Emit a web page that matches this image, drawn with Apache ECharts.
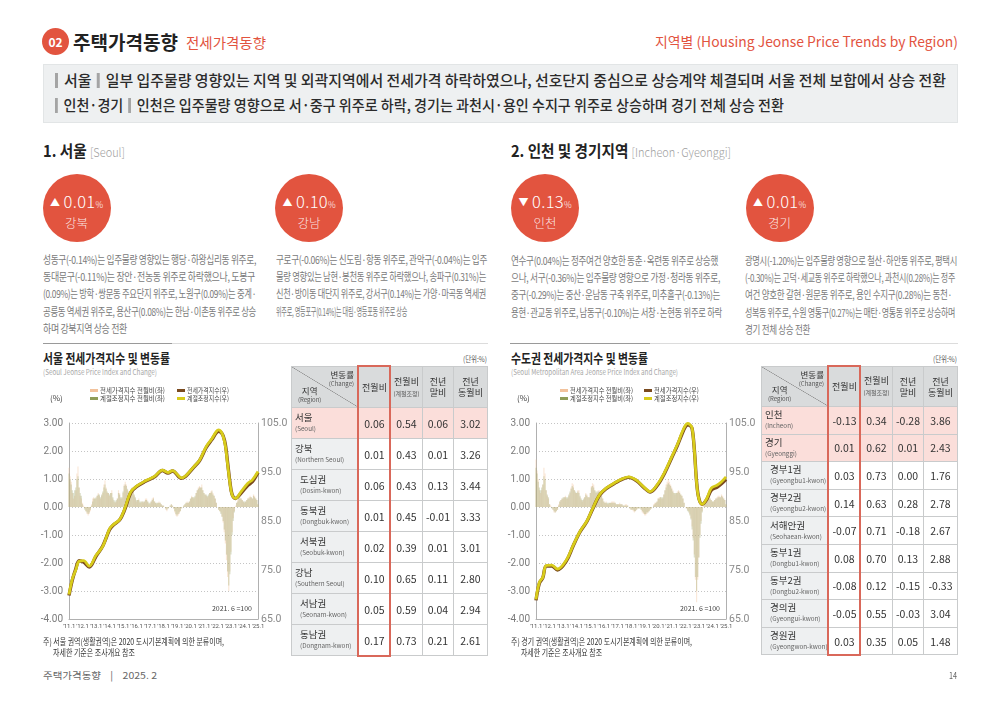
<!DOCTYPE html>
<html>
<head>
<meta charset="utf-8" />
<title>주택가격동향 - 전세가격동향</title>
<script src="https://cdn.jsdelivr.net/npm/echarts/dist/echarts.min.js"></script>
<style>
body{margin:0;width:1000px;height:707px;overflow:hidden;background:#fff;position:relative;
  font-family:"Noto Sans CJK KR","Noto Sans",sans-serif;color:#333}
.abs{position:absolute;white-space:nowrap;transform-origin:0 50%}
.chart{position:absolute;width:270px;height:260px}
.badge{position:absolute;width:68px;height:68px;border-radius:50%;background:#e2543f;color:#fff;text-align:center}
.badge .v{position:absolute;left:0;right:0;top:18px;height:18px;line-height:18px;white-space:nowrap}
.badge .n{position:absolute;left:0;right:0;top:40.5px;height:16px;font-size:12.5px;line-height:16px;font-weight:300;color:rgba(255,255,255,.88)}
.bar{display:inline-block;width:3px;height:15px;background:#a4a4a4;vertical-align:-2px;margin:0 6px 0 0}
.sw{position:absolute;width:8px;height:3px}
table.t{position:absolute;border-collapse:collapse;table-layout:fixed;font-family:"Noto Sans CJK KR",sans-serif}
table.t td{border:1px solid #c9cbcc;padding:0;text-align:center;color:#333;background:#fff;font-size:10.5px}
table.t td.h{background:#d9dbdc;font-size:9px;line-height:11px;color:#333}
table.t td.h small{font-size:6px;color:#555}
table.t td.r{background:#eef0f1;text-align:left;padding-left:4px;line-height:11px}
table.t td.r b{font-weight:400;font-size:9.5px;display:block}
table.t td.r i{font-style:normal;font-size:6.3px;color:#666;display:block;white-space:nowrap}
table.t tr.hi td{background:#fbdeda}
.outline{position:absolute;border:2px solid #d9685a;box-sizing:border-box}
.diag{position:relative;height:100%;background:linear-gradient(to top right,transparent calc(50% - .6px),#8e8e8e 50%,transparent calc(50% + .6px))}
</style>
</head>
<body>

<div class="chart" id="seoulChart" style="left:30px;top:380px"></div>
<div class="chart" id="metroChart" style="left:497px;top:380px"></div>

<script>
// ---- 월별 데이터 2011.1 ~ 2025.1 (169개월) ----
var xTickLabels = ["'11.1","'12.1","'13.1","'14.1","'15.1","'16.1","'17.1","'18.1","'19.1","'20.1","'21.1","'22.1","'23.1","'24.1","'25.1"];
var seriesNames = ['전세가격지수 전월비(좌)', '계절조정지수 전월비(좌)', '전세가격지수(우)', '계절조정지수(우)'];
var seriesColors = ['#f2c29c', '#8f9c58', '#7a4a1f', '#d8cc1c'];

// 서울 전세가격지수 전월비(%)
var seoulChg = [
  1.4,1.1,0.9,0.5,0.3,0.4,0.6,1.2,1.45,0.7,0.4,0.3,
  0.15,0.05,-0.05,-0.15,-0.25,-0.3,-0.25,-0.15,0.1,0.3,0.35,0.3,
  0.3,0.4,0.5,0.4,0.3,0.4,0.5,0.8,0.95,0.7,0.5,0.5,
  0.4,0.5,0.6,0.3,0.2,0.15,0.2,0.3,0.6,0.5,0.3,0.3,
  0.5,0.8,0.9,0.8,0.6,0.5,0.5,0.6,0.7,0.6,0.4,0.3,
  0.2,0.25,0.3,0.15,0.15,0.2,0.15,0.2,0.3,0.3,0.2,0.1,
  0.1,0.2,0.3,0.35,0.2,0.15,0.1,0.15,0.2,0.15,0.1,0.05,
  0.05,0.0,-0.1,-0.15,-0.05,0.0,0.05,0.1,0.05,-0.05,-0.2,-0.3,
  -0.35,-0.3,-0.25,-0.15,-0.05,0.0,0.05,0.1,0.15,0.2,0.15,0.2,
  0.3,0.4,0.35,0.3,0.35,0.5,0.6,0.7,0.75,0.7,0.8,0.6,
  0.5,0.45,0.4,0.35,0.4,0.5,0.55,0.6,0.5,0.4,0.3,0.15,
  0.0,-0.1,-0.15,-0.2,-0.35,-0.55,-0.9,-1.3,-1.9,-2.5,-3.0,-2.3,
  -1.6,-0.9,-0.4,-0.15,0.05,0.15,0.25,0.3,0.35,0.3,0.25,0.2,
  0.15,0.2,0.25,0.3,0.35,0.4,0.35,0.3,0.45,0.4,0.3,0.25,
  0.1];
// 서울 계절조정지수 전월비(%)
var seoulSaChg = [
  1.2,1.0,0.8,0.6,0.5,0.6,0.7,1.0,1.1,0.7,0.5,0.4,
  0.1,0.0,-0.1,-0.15,-0.2,-0.25,-0.2,-0.1,0.05,0.2,0.3,0.3,
  0.35,0.4,0.45,0.45,0.35,0.45,0.55,0.7,0.8,0.65,0.55,0.5,
  0.45,0.5,0.5,0.35,0.25,0.2,0.25,0.3,0.5,0.45,0.35,0.35,
  0.55,0.75,0.8,0.75,0.65,0.55,0.55,0.6,0.6,0.55,0.45,0.35,
  0.25,0.25,0.25,0.2,0.2,0.2,0.2,0.2,0.25,0.25,0.2,0.15,
  0.15,0.2,0.25,0.3,0.2,0.15,0.15,0.15,0.15,0.15,0.1,0.05,
  0.05,0.0,-0.05,-0.1,-0.05,0.0,0.05,0.1,0.05,-0.05,-0.15,-0.25,
  -0.3,-0.25,-0.2,-0.15,-0.05,0.0,0.05,0.1,0.15,0.15,0.15,0.2,
  0.3,0.35,0.35,0.35,0.4,0.5,0.6,0.65,0.7,0.7,0.7,0.6,
  0.5,0.45,0.45,0.4,0.45,0.5,0.5,0.55,0.45,0.4,0.3,0.15,
  0.0,-0.1,-0.15,-0.25,-0.35,-0.5,-0.8,-1.2,-1.7,-2.3,-2.8,-2.4,
  -1.7,-1.0,-0.5,-0.2,0.0,0.15,0.2,0.3,0.3,0.3,0.25,0.2,
  0.2,0.2,0.25,0.3,0.3,0.35,0.35,0.3,0.4,0.35,0.3,0.25,
  0.1];
// 서울 지수 (2021.6=100) [월순번, 지수]
var seoulIdx = [[0,69.8],[3,73.0],[6,75.2],[9,76.9],[13,76.6],[18,75.6],[24,77.8],[30,79.9],[36,83.2],[39,84.1],[45,85.2],[49,87.0],[55,90.8],[60,92.0],[68,93.1],[76,94.0],[83,95.3],[88,94.8],[92,95.2],[100,93.7],[104,94.2],[111,96.0],[116,97.3],[122,100.0],[127,101.6],[131,103.0],[133,103.3],[135,103.1],[137,102.4],[139,100.6],[141,96.9],[143,93.0],[145,90.4],[148,89.6],[153,90.7],[159,92.3],[163,93.0],[168,94.9]];
var seoulSaIdx = [[0,70.0],[3,73.2],[6,75.0],[9,76.8],[13,76.9],[18,75.8],[24,78.0],[30,79.8],[36,83.4],[39,84.2],[45,85.3],[49,87.2],[55,91.0],[60,92.1],[68,93.2],[76,94.1],[83,95.4],[88,94.9],[92,95.3],[100,93.8],[104,94.3],[111,96.1],[116,97.4],[122,100.2],[127,101.8],[131,103.3],[133,103.6],[135,103.3],[137,102.3],[139,100.3],[141,96.5],[143,92.8],[145,90.3],[148,89.6],[153,91.0],[159,92.7],[163,93.4],[168,95.1]];

// 수도권 전세가격지수 전월비(%)
var metroChg = [
  1.7,1.3,1.0,0.6,0.5,0.6,0.8,1.4,1.2,0.6,0.4,0.3,
  0.1,0.05,0.0,-0.1,-0.2,-0.2,-0.15,-0.1,0.1,0.2,0.25,0.3,
  0.3,0.35,0.4,0.3,0.3,0.4,0.5,0.7,0.85,0.8,0.6,0.5,
  0.5,0.6,0.6,0.35,0.25,0.2,0.25,0.35,0.5,0.45,0.35,0.35,
  0.5,0.75,0.85,0.8,0.6,0.5,0.5,0.6,0.6,0.5,0.4,0.3,
  0.2,0.15,0.2,0.1,0.1,0.15,0.15,0.2,0.2,0.2,0.15,0.1,
  0.1,0.1,0.15,0.1,0.1,0.05,0.05,0.1,0.1,0.05,0.0,-0.05,
  -0.1,-0.1,-0.15,-0.2,-0.15,-0.1,-0.05,-0.05,0.0,-0.1,-0.2,-0.25,
  -0.3,-0.3,-0.25,-0.2,-0.15,-0.1,-0.05,0.0,0.1,0.15,0.15,0.2,
  0.3,0.35,0.35,0.3,0.3,0.45,0.6,0.8,0.9,1.0,0.9,0.8,
  0.7,0.6,0.5,0.45,0.5,0.55,0.6,0.55,0.45,0.4,0.3,0.15,
  0.0,-0.05,-0.1,-0.15,-0.25,-0.4,-0.7,-1.1,-1.7,-2.6,-3.4,-2.6,
  -1.8,-1.0,-0.5,-0.15,0.05,0.2,0.3,0.35,0.4,0.35,0.3,0.25,
  0.2,0.2,0.25,0.3,0.35,0.4,0.4,0.35,0.45,0.4,0.3,0.25,
  0.1];
// 수도권 계절조정지수 전월비(%)
var metroSaChg = [
  1.4,1.2,0.9,0.7,0.6,0.7,0.8,1.1,1.0,0.6,0.45,0.35,
  0.1,0.0,-0.05,-0.1,-0.15,-0.2,-0.15,-0.1,0.05,0.2,0.25,0.3,
  0.35,0.35,0.35,0.35,0.35,0.45,0.55,0.65,0.75,0.7,0.6,0.55,
  0.5,0.55,0.5,0.4,0.3,0.25,0.3,0.35,0.45,0.4,0.35,0.35,
  0.5,0.7,0.75,0.7,0.6,0.55,0.55,0.55,0.55,0.5,0.4,0.3,
  0.2,0.15,0.15,0.15,0.15,0.15,0.15,0.15,0.15,0.15,0.15,0.1,
  0.1,0.1,0.1,0.1,0.1,0.05,0.05,0.05,0.05,0.05,0.0,-0.05,
  -0.1,-0.1,-0.1,-0.15,-0.15,-0.1,-0.05,-0.05,-0.05,-0.1,-0.15,-0.2,
  -0.25,-0.25,-0.2,-0.2,-0.15,-0.1,-0.05,0.0,0.05,0.1,0.15,0.2,
  0.3,0.3,0.35,0.35,0.35,0.45,0.6,0.7,0.8,0.85,0.8,0.75,
  0.65,0.55,0.5,0.5,0.5,0.5,0.55,0.5,0.45,0.4,0.3,0.15,
  0.0,-0.05,-0.15,-0.2,-0.3,-0.45,-0.8,-1.2,-1.8,-2.5,-3.0,-2.5,
  -1.8,-1.1,-0.6,-0.2,0.0,0.15,0.25,0.3,0.35,0.3,0.3,0.25,
  0.2,0.2,0.25,0.3,0.3,0.35,0.35,0.35,0.4,0.35,0.3,0.25,
  0.1];
var metroIdx = [[0,68.8],[3,72.3],[6,73.4],[9,75.8],[14,75.8],[19,75.0],[27,76.9],[33,80.0],[39,82.8],[45,84.9],[50,87.4],[56,90.2],[62,91.6],[71,92.9],[76,93.5],[82,93.9],[89,93.2],[95,91.9],[101,90.9],[108,92.5],[114,94.9],[120,97.9],[125,100.4],[129,102.7],[132,104.2],[134,104.6],[136,104.5],[138,103.9],[140,99.6],[142,93.0],[144,89.6],[147,88.4],[151,89.4],[155,91.3],[160,91.9],[164,92.6],[168,93.5]];
var metroSaIdx = [[0,69.0],[3,72.5],[6,73.5],[9,75.9],[14,76.0],[19,75.2],[27,77.1],[33,80.1],[39,82.9],[45,85.0],[50,87.5],[56,90.3],[62,91.7],[71,93.0],[76,93.6],[82,94.0],[89,93.3],[95,92.0],[101,91.0],[108,92.7],[114,95.1],[120,98.1],[125,100.6],[129,103.0],[132,104.5],[134,104.9],[136,104.7],[138,104.0],[140,99.5],[142,92.8],[144,89.5],[147,88.4],[151,89.6],[155,91.7],[160,92.3],[164,93.0],[168,94.0]];

// ---- 표 데이터 ----
var seoulRegions = ['서울','강북','도심권','동북권','서북권','강남','서남권','동남권'];
var seoulRegionsEn = ['(Seoul)','(Northern Seoul)','(Dosim-kwon)','(Dongbuk-kwon)','(Seobuk-kwon)','(Southern Seoul)','(Seonam-kwon)','(Dongnam-kwon)'];
var seoulMoM = [0.06,0.01,0.06,0.01,0.02,0.10,0.05,0.17];
var seoulMoMSa = [0.54,0.43,0.43,0.45,0.39,0.65,0.59,0.73];
var seoulYtd = [0.06,0.01,0.13,-0.01,0.01,0.11,0.04,0.21];
var seoulYoY = [3.02,3.26,3.44,3.33,3.01,2.80,2.94,2.61];

var metroRegions = ['인천','경기','경부1권','경부2권','서해안권','동부1권','동부2권','경의권','경원권'];
var metroRegionsEn = ['(Incheon)','(Gyeonggi)','(Gyeongbu1-kwon)','(Gyeongbu2-kwon)','(Seohaean-kwon)','(Dongbu1-kwon)','(Dongbu2-kwon)','(Gyeongui-kwon)','(Gyeongwon-kwon)'];
var metroMoM = [-0.13,0.01,0.03,0.14,-0.07,0.08,-0.08,-0.05,0.03];
var metroMoMSa = [0.34,0.62,0.73,0.63,0.71,0.70,0.12,0.55,0.35];
var metroYtd = [-0.28,0.01,0.00,0.28,-0.18,0.13,-0.15,-0.03,0.05];
var metroYoY = [3.86,2.43,1.76,2.78,2.67,2.88,-0.33,3.04,1.48];

var FONT = '"Noto Sans CJK KR", sans-serif';

// 텍스트 배치 도우미 (w 가 있으면 그 폭에 맞춰 가로 압축)
function put(html, x, yc, fs, w, css, lhOverride) {
  var d = document.createElement('div');
  d.className = 'abs';
  d.innerHTML = html;
  var lh = lhOverride || Math.round(fs * 1.3);
  d.style.left = x + 'px';
  d.style.top = (yc - lh / 2) + 'px';
  d.style.fontSize = fs + 'px';
  d.style.lineHeight = lh + 'px';
  if (css) d.style.cssText += css;
  document.body.appendChild(d);
  if (w) {
    var cw = d.getBoundingClientRect().width;
    if (cw > 0) d.style.transform = 'scaleX(' + (w / cw) + ')';
  }
  return d;
}

function paragraph(lines, widths, x, y0) {
  for (var i = 0; i < lines.length; i++) {
    put(lines[i], x, y0 + i * 17.4, 11, widths[i], 'color:#7a7a7a;letter-spacing:-0.4px');
  }
}

function badge(cx, arrow, val, name) {
  var d = document.createElement('div');
  d.className = 'badge';
  d.style.left = (cx - 34) + 'px';
  d.style.top = '174px';
  d.innerHTML = '<div class="v"><span style="font-size:10px;vertical-align:2px">' + arrow + '</span>&nbsp;' +
    '<span style="font-size:16.5px;font-weight:300;letter-spacing:0.3px">' + val + '</span>' +
    '<span style="font-size:8.5px;font-weight:300">%</span></div><div class="n">' + name + '</div>';
  document.body.appendChild(d);
}

// 범례 (두 줄 x 두 칸)
function legend(xs, textW) {
  var rows = [390.3, 398.3];
  var order = [[0, 2], [1, 3]];
  for (var r = 0; r < 2; r++) {
    for (var k = 0; k < 2; k++) {
      var s = order[r][k];
      var sw = document.createElement('div');
      sw.className = 'sw';
      sw.style.left = xs[k] + 'px';
      sw.style.top = (rows[r] - 1.5) + 'px';
      sw.style.background = seriesColors[s];
      document.body.appendChild(sw);
      put(seriesNames[s], xs[k] + 10, rows[r], 7, textW[k], 'color:#444', 7.5);
    }
  }
}

function buildTable(x, y, names, ens, cols, hiRows, subRows, headH, rowH) {
  var colW = [67, 32, 32, 31, 34];
  var h = '<colgroup>';
  colW.forEach(function (w) { h += '<col style="width:' + w + 'px">'; });
  h += '</colgroup>';
  h += '<tr style="height:' + headH + 'px">' +
    '<td class="h" style="padding:0"><div class="diag" style="height:' + (headH - 1) + 'px">' +
    '<span style="position:absolute;right:4px;top:3px;text-align:right;line-height:8px;font-size:8.5px">변동률<br><small>(Change)</small></span>' +
    '<span style="position:absolute;left:6px;bottom:3px;text-align:left;line-height:8px;font-size:8.5px">&nbsp;&nbsp;지역<br><small>(Region)</small></span></div></td>' +
    '<td class="h">전월비</td>' +
    '<td class="h">전월비<br><small>(계절조정)</small></td>' +
    '<td class="h">전년<br>말비</td>' +
    '<td class="h">전년<br>동월비</td></tr>';
  for (var i = 0; i < names.length; i++) {
    h += '<tr style="height:' + rowH + 'px"' + (hiRows.indexOf(i) >= 0 ? ' class="hi"' : '') + '>' +
      '<td class="r" style="padding-left:' + (subRows.indexOf(i) >= 0 ? 8 : 3) + 'px"><b>' + names[i] + '</b><i>' + ens[i] + '</i></td>';
    for (var c = 0; c < cols.length; c++) {
      h += '<td>' + cols[c][i].toFixed(2) + '</td>';
    }
    h += '</tr>';
  }
  var t = document.createElement('table');
  t.className = 't';
  t.style.left = x + 'px';
  t.style.top = y + 'px';
  t.style.width = '196px';
  t.innerHTML = h;
  document.body.appendChild(t);
  var o = document.createElement('div');
  o.className = 'outline';
  o.style.left = (x + 66) + 'px';
  o.style.top = (y - 1) + 'px';
  o.style.width = '34px';
  o.style.height = (t.getBoundingClientRect().height + 2) + 'px';
  document.body.appendChild(o);
}

function pairs(arr) {
  return arr.map(function (v, i) { return [i, v]; });
}

function chartOption(chg, saChg, idx, saIdx, gridRight, noteRight) {
  return {
    animation: false,
    textStyle: {fontFamily: FONT},
    grid: {left: 39, right: gridRight, top: 43, bottom: 21},
    graphic: [
      {type: 'text', left: 20, top: 14, style: {text: '(%)', fontSize: 8, fill: '#444', fontFamily: FONT}},
      {type: 'text', right: noteRight, top: 225, style: {text: '2021. 6 =100', fontSize: 7, fill: '#444', fontFamily: FONT}}
    ],
    xAxis: {
      type: 'value', min: 0, max: 168, interval: 12,
      axisLine: {show: true, onZero: false, lineStyle: {color: '#b0b0b0'}},
      axisTick: {show: false}, splitLine: {show: false},
      axisLabel: {fontSize: 6, color: '#555', margin: 4, fontFamily: 'Roboto',
        formatter: function (v) { return xTickLabels[Math.round(v / 12)]; }}
    },
    yAxis: [{
      type: 'value', min: -4, max: 3, interval: 1,
      axisLine: {show: true, lineStyle: {color: '#b0b0b0'}}, axisTick: {show: false},
      splitLine: {lineStyle: {color: '#c4c4c4', type: [1, 2]}},
      axisLabel: {fontSize: 10, color: '#7a7a7a', margin: 6, fontFamily: 'Roboto',
        formatter: function (v) { return v.toFixed(2); }}
    }, {
      type: 'value', min: 65, max: 105, interval: 10, position: 'right',
      axisLine: {show: true, lineStyle: {color: '#b0b0b0'}}, axisTick: {show: false},
      splitLine: {show: false},
      axisLabel: {fontSize: 10.5, color: '#8a8a8a', margin: 3, fontFamily: 'Roboto',
        formatter: function (v) { return v.toFixed(1); }}
    }],
    series: [
      {name: seriesNames[0], type: 'bar', data: pairs(chg), barWidth: 1.2, barGap: '-100%',
        itemStyle: {color: seriesColors[0], opacity: 0.38}},
      {name: seriesNames[1], type: 'bar', data: pairs(saChg), barWidth: 1.2, barGap: '-100%',
        itemStyle: {color: seriesColors[1], opacity: 0.3}},
      {name: seriesNames[2], type: 'line', yAxisIndex: 1, data: idx, smooth: 0.35, showSymbol: false,
        itemStyle: {color: seriesColors[2]}, lineStyle: {color: seriesColors[2], width: 3.4}, z: 3},
      {name: seriesNames[3], type: 'line', yAxisIndex: 1, data: saIdx, smooth: 0.35, showSymbol: false,
        itemStyle: {color: seriesColors[3]}, lineStyle: {color: seriesColors[3], width: 2.8}, z: 4}
    ]
  };
}

window.onload = function () {
  // 상단 제목
  var c = document.createElement('div');
  c.style.cssText = 'position:absolute;left:42px;top:28px;width:27px;height:27px;border-radius:50%;background:#e2543f;color:#fff;font-size:12px;font-weight:700;text-align:center;line-height:27px';
  c.textContent = '02';
  document.body.appendChild(c);
  put('주택가격동향', 73, 41, 19, 105, 'font-weight:700;color:#222');
  put('전세가격동향', 186, 42, 13.5, 80, 'color:#e2543f');
  put('지역별 (Housing Jeonse Price Trends by Region)', 655, 41, 14, 303, 'color:#e2543f');

  // 요약 박스
  var box = document.createElement('div');
  box.style.cssText = 'position:absolute;left:43px;top:64px;width:913px;height:57px;background:#eef0f1;border:1px solid #e2e5e6';
  document.body.appendChild(box);
  put('<span class="bar"></span>서울 <span class="bar" style="margin-left:2px"></span>일부 입주물량 영향있는 지역 및 외곽지역에서 전세가격 하락하였으나, 선호단지 중심으로 상승계약 체결되며 서울 전체 보합에서 상승 전환',
    55, 80, 15, 891, 'color:#2b2b2b;font-weight:500');
  put('<span class="bar"></span>인천·경기 <span class="bar" style="margin-left:2px"></span>인천은 입주물량 영향으로 서·중구 위주로 하락, 경기는 과천시·용인 수지구 위주로 상승하며 경기 전체 상승 전환',
    55, 105, 15, 729, 'color:#2b2b2b;font-weight:500');

  // 섹션 제목
  put('<b style="font-size:16px;color:#222">1. 서울</b> <span style="font-size:12px;color:#a0a0a0;font-weight:300">[Seoul]</span>', 43, 150, 16, 82);
  put('<b style="font-size:16px;color:#222">2. 인천 및 경기지역</b> <span style="font-size:12px;color:#a0a0a0;font-weight:300">[Incheon·Gyeonggi]</span>', 511, 150, 16, 220);

  badge(76.5, '▲', '0.01', '강북');
  badge(309, '▲', '0.10', '강남');
  badge(545, '▼', '0.13', '인천');
  badge(779.5, '▲', '0.01', '경기');

  paragraph(['성동구(-0.14%)는 입주물량 영향있는 행당·하왕십리동 위주로,',
    '동대문구(-0.11%)는 장안·전농동 위주로 하락했으나, 도봉구',
    '(0.09%)는 방학·쌍문동 주요단지 위주로, 노원구(0.09%)는 중계·',
    '공릉동 역세권 위주로, 용산구(0.08%)는 한남·이촌동 위주로 상승',
    '하며 강북지역 상승 전환'], [213, 212, 213, 213, 84], 43, 258.5);
  paragraph(['구로구(-0.06%)는 신도림·항동 위주로, 관악구(-0.04%)는 입주',
    '물량 영향있는 남현·봉천동 위주로 하락했으나, 송파구(0.31%)는',
    '신천·방이동 대단지 위주로, 강서구(0.14%)는 가양·마곡동 역세권',
    '위주로, 영등포구(0.14%)는 대림·영등포동 위주로 상승'], [211, 210, 210, 131], 275.5, 258.5);
  paragraph(['연수구(0.04%)는 정주여건 양호한 동춘·옥련동 위주로 상승했',
    '으나, 서구(-0.36%)는 입주물량 영향으로 가정·청라동 위주로,',
    '중구(-0.29%)는 중산·운남동 구축 위주로, 미추홀구(-0.13%)는',
    '용현·관교동 위주로, 남동구(-0.10%)는 서창·논현동 위주로 하락'], [207, 209, 209, 211], 511, 259.5);
  paragraph(['광명시(-1.20%)는 입주물량 영향으로 철산·하안동 위주로, 평택시',
    '(-0.30%)는 고덕·세교동 위주로 하락했으나, 과천시(0.28%)는 정주',
    '여건 양호한 갈현·원문동 위주로, 용인 수지구(0.28%)는 동천·',
    '성복동 위주로, 수원 영통구(0.27%)는 매탄·영통동 위주로 상승하며',
    '경기 전체 상승 전환'], [212, 210, 207, 210, 65], 745, 259.5);

  // 구분선
  var lines = [[43, 445, '#dcdcdc'], [43, 129, '#9a9a9a'], [510, 448, '#dcdcdc'], [510, 140, '#9a9a9a']];
  lines.forEach(function (l) {
    var d = document.createElement('div');
    d.style.cssText = 'position:absolute;top:343px;height:1px;left:' + l[0] + 'px;width:' + l[1] + 'px;background:' + l[2];
    document.body.appendChild(d);
  });

  // 차트 제목
  put('서울 전세가격지수 및 변동률', 43, 358, 13, 127, 'font-weight:700;color:#222', 14);
  put('(Seoul Jeonse Price Index and Change)', 43, 371.5, 8, 114, 'color:#a8a8a8', 9);
  put('수도권 전세가격지수 및 변동률', 511, 358, 13, 137, 'font-weight:700;color:#222', 14);
  put('(Seoul Metropolitan Area Jeonse Price Index and Change)', 511, 371.5, 8, 167, 'color:#a8a8a8', 9);

  legend([90, 177], [65, 42]);
  legend([560, 643.5], [63, 45]);

  put('(단위:%)', 463, 359, 7.5, 24, 'color:#555');
  put('(단위:%)', 933, 359, 7.5, 24, 'color:#555');

  buildTable(291, 366, seoulRegions, seoulRegionsEn, [seoulMoM, seoulMoMSa, seoulYtd, seoulYoY], [0], [2, 3, 4, 6, 7], 41, 31);
  buildTable(761, 366, metroRegions, metroRegionsEn, [metroMoM, metroMoMSa, metroYtd, metroYoY], [0, 1], [2, 3, 4, 5, 6, 7, 8], 40, 27.6);

  // 주석
  put('주) 서울 권역(생활권역)은 2020 도시기본계획에 의한 분류이며,', 43, 641.5, 9, 181, 'color:#333');
  put('자세한 기준은 조사개요 참조', 53, 652.5, 9, 82, 'color:#333');
  put('주) 경기 권역(생활권역)은 2020 도시기본계획에 의한 분류이며,', 511, 641.5, 9, 181, 'color:#333');
  put('자세한 기준은 조사개요 참조', 521, 652.5, 9, 81, 'color:#333');

  // 하단
  put('주택가격동향&nbsp;&nbsp;&nbsp;&nbsp;|&nbsp;&nbsp;&nbsp;&nbsp;2025. 2', 43, 675, 9.5, 114, 'color:#666');
  put('14', 949, 675, 9.5, 8, 'color:#666');

  var seoulChart = echarts.init(document.getElementById('seoulChart'));
  seoulChart.setOption(chartOption(seoulChg, seoulSaChg, seoulIdx, seoulSaIdx, 42, 48));
  var metroChart = echarts.init(document.getElementById('metroChart'));
  metroChart.setOption(chartOption(metroChg, metroSaChg, metroIdx, metroSaIdx, 41, 47));
};
</script>
</body>
</html>
